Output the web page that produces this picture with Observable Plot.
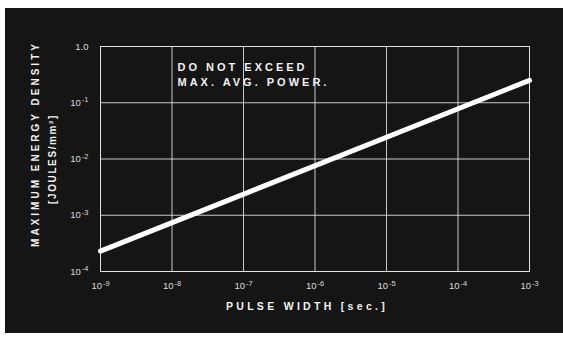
<!DOCTYPE html>
<html>
<head>
<meta charset="utf-8">
<script src="https://cdn.jsdelivr.net/npm/d3@7"></script>
<script src="https://cdn.jsdelivr.net/npm/@observablehq/plot@0.6"></script>
<style>
  html, body { margin: 0; padding: 0; background: #ffffff; }
  #chart svg { display: block; margin: 8px 0 0 5px; }
</style>
</head>
<body>
<div id="chart"></div>
<script>
// Pulse width (s) and the maximum energy density (J/mm²) of the straight limit line
const pulseWidth = [1e-9, 1e-3];
const energyDensity = [2.3e-4, 0.25];

// Axis ticks and their labels
const xTicks = [1e-9, 1e-8, 1e-7, 1e-6, 1e-5, 1e-4, 1e-3];
const xTickLabels = ["10⁻⁹", "10⁻⁸", "10⁻⁷", "10⁻⁶", "10⁻⁵", "10⁻⁴", "10⁻³"];
const yTicks = [1e-4, 1e-3, 1e-2, 1e-1, 1];
const yTickLabels = ["10⁻⁴", "10⁻³", "10⁻²", "10⁻¹", "1.0"];

// Texts
const yTitle1 = "MAXIMUM ENERGY DENSITY";
const yTitle2 = "[JOULES/mm²]";
const xTitle = "PULSE WIDTH [sec.]";
const note = "DO NOT EXCEED\nMAX. AVG. POWER.";

const data = pulseWidth.map((x, i) => ({x, y: energyDensity[i]}));
const xLab = new Map(xTicks.map((t, i) => [t, xTickLabels[i]]));
const yLab = new Map(yTicks.map((t, i) => [t, yTickLabels[i]]));

const ink = "#f2f2f2";
const font = "Liberation Sans, Arial, Helvetica, sans-serif";

const chart = Plot.plot({
  width: 558,
  height: 325,
  marginLeft: 95,
  marginRight: 34,
  marginTop: 38,
  marginBottom: 62,
  style: {background: "#151515", color: "#dcdcdc", fontFamily: font, fontSize: "9.5px"},
  x: {type: "log", domain: [1e-9, 1e-3]},
  y: {type: "log", domain: [1e-4, 1]},
  marks: [
    Plot.gridX(xTicks, {stroke: "#e6e6e6", strokeOpacity: 0.85, strokeWidth: 1}),
    Plot.gridY(yTicks, {stroke: "#e6e6e6", strokeOpacity: 0.85, strokeWidth: 1}),
    Plot.frame({stroke: "#e6e6e6", strokeOpacity: 0.9}),
    Plot.axisX(xTicks, {tickSize: 0, tickPadding: 11, tickFormat: d => xLab.get(d), label: null, fill: "#dcdcdc"}),
    Plot.axisY(yTicks, {tickSize: 0, tickPadding: 12, tickFormat: d => yLab.get(d), label: null, fill: "#dcdcdc"}),
    Plot.line(data, {x: "x", y: "y", stroke: "#ffffff", strokeWidth: 5}),
    Plot.text([note], {
      frameAnchor: "top-left", dx: 77, dy: 14, lineAnchor: "top", textAnchor: "start",
      fill: ink, fontSize: 11, fontWeight: "bold", lineHeight: 1.38
    }),
    Plot.text([yTitle1], {
      frameAnchor: "left", textAnchor: "middle", rotate: -90, dx: -65, dy: -15,
      fill: ink, fontSize: 10, fontWeight: "bold"
    }),
    Plot.text([yTitle2], {
      frameAnchor: "left", textAnchor: "middle", rotate: -90, dx: -48, dy: 0,
      fill: ink, fontSize: 10, fontWeight: "bold"
    }),
    Plot.text([xTitle], {
      frameAnchor: "bottom", dx: -8, dy: 38,
      fill: ink, fontSize: 10.5, fontWeight: "bold"
    })
  ]
});

// Letter spacing of the lettering, as on the original drawing
const spacing = new Map([[note.replace("\n", ""), 3], [yTitle1, 3], [yTitle2, 1.6], [xTitle, 3.3]]);
// Power-of-ten tick labels with a raised exponent
const supMap = {"⁻": "-", "⁰": "0", "¹": "1", "²": "2", "³": "3", "⁴": "4", "⁵": "5", "⁶": "6", "⁷": "7", "⁸": "8", "⁹": "9"};
d3.select(chart).selectAll("text").each(function() {
  const s = this.textContent;
  if (spacing.has(s)) {
    this.style.letterSpacing = spacing.get(s) + "px";
    return;
  }
  const m = s.match(/^(10)([⁻⁰¹²³⁴⁵⁶⁷⁸⁹]+)$/);
  if (!m) return;
  const exp = Array.from(m[2]).map(c => supMap[c]).join("");
  const t = d3.select(this);
  t.text(null);
  t.append("tspan").text(m[1]);
  t.append("tspan").attr("dx", "1").attr("dy", "-0.45em").attr("font-size", "7.5px").text(exp);
});

document.getElementById("chart").append(chart);
</script>
</body>
</html>
